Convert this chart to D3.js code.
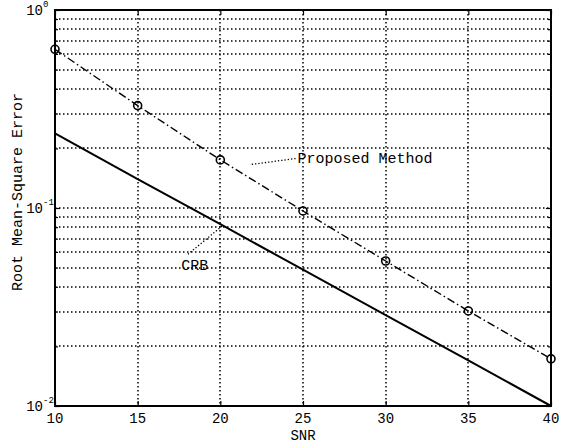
<!DOCTYPE html>
<html>
<head>
<meta charset="utf-8">
<script src="https://cdn.jsdelivr.net/npm/d3@7"></script>
<style>
  body { margin: 0; background: #fff; }
  text { font-family: "Liberation Mono", "DejaVu Sans Mono", monospace; fill: #000; }
</style>
</head>
<body>
<svg id="chart"></svg>
<script>
// ------ data
var snr = [10, 15, 20, 25, 30, 35, 40];
var proposedRmse = [0.633, 0.329, 0.175, 0.0966, 0.054, 0.0302, 0.0173];
var crbRmse = [0.238, 0.140, 0.0828, 0.0488, 0.0288, 0.0170, 0.010];
var xTicks = [10, 15, 20, 25, 30, 35, 40];
var yDecades = [1, 0.1, 0.01];
var yDecadeLabels = ["0", "-1", "-2"];
var annotations = [
  {text: "Proposed Method", from: [21.9, 0.166], to: [24.6, 0.178]},
  {text: "CRB", from: [20.1, 0.081], to: [18.0, 0.058]}
];

// ------ sizes
var width = 563, height = 446;
var margin = {top: 10, right: 12, bottom: 40, left: 55};

var svg = d3.select("#chart")
  .attr("width", width)
  .attr("height", height);

var x = d3.scaleLinear().domain([10, 40]).range([margin.left, width - margin.right]);
var y = d3.scaleLog().domain([0.01, 1]).range([height - margin.bottom, margin.top]);

// minor log values 2..9 per decade
var yMinor = [];
[0.01, 0.1].forEach(function(d) {
  for (var k = 2; k <= 9; k++) yMinor.push(d * k);
});

// ------ grid (dotted)
var grid = svg.append("g").attr("class", "grid")
  .attr("stroke", "#000")
  .attr("stroke-width", 1.5)
  .attr("stroke-dasharray", "1.5,2.5");

grid.selectAll(".vgrid")
  .data(xTicks.slice(1, -1))
  .enter().append("line")
  .attr("x1", d => Math.round(x(d))).attr("x2", d => Math.round(x(d)))
  .attr("y1", y(1)).attr("y2", y(0.01));

grid.selectAll(".hgrid")
  .data(yMinor.concat([0.1]))
  .enter().append("line")
  .attr("x1", x(10)).attr("x2", x(40))
  .attr("y1", d => Math.round(y(d))).attr("y2", d => Math.round(y(d)));

// ------ axes (ticks inside, box)
var xAxisBottom = d3.axisTop(x).tickValues(xTicks).tickSize(5).tickFormat("");
var xAxisTop = d3.axisBottom(x).tickValues(xTicks).tickSize(5).tickFormat("");
svg.append("g").attr("transform", "translate(0," + y(0.01) + ")").call(xAxisBottom);
svg.append("g").attr("transform", "translate(0," + y(1) + ")").call(xAxisTop);

var yLeft = d3.axisRight(y).tickValues(yDecades).tickSize(5).tickFormat("");
var yRight = d3.axisLeft(y).tickValues(yDecades).tickSize(5).tickFormat("");
var yLeftMinor = d3.axisRight(y).tickValues(yMinor).tickSize(3).tickFormat("");
var yRightMinor = d3.axisLeft(y).tickValues(yMinor).tickSize(3).tickFormat("");
svg.append("g").attr("transform", "translate(" + x(10) + ",0)").call(yLeft);
svg.append("g").attr("transform", "translate(" + x(10) + ",0)").call(yLeftMinor);
svg.append("g").attr("transform", "translate(" + x(40) + ",0)").call(yRight);
svg.append("g").attr("transform", "translate(" + x(40) + ",0)").call(yRightMinor);
svg.selectAll(".domain").remove();
svg.selectAll(".tick line").attr("stroke", "#000").attr("stroke-width", 1.2);

svg.append("rect")
  .attr("x", x(10)).attr("y", y(1))
  .attr("width", x(40) - x(10)).attr("height", y(0.01) - y(1))
  .attr("fill", "none").attr("stroke", "#000").attr("stroke-width", 2);

// x tick labels
svg.selectAll(".xlab")
  .data(xTicks)
  .enter().append("text")
  .attr("x", d => x(d)).attr("y", y(0.01) + 17)
  .attr("text-anchor", "middle")
  .style("font-size", "14px")
  .text(d => d);

// y tick labels 10^n
var ylab = svg.selectAll(".ylab")
  .data(yDecades)
  .enter().append("g")
  .attr("transform", d => "translate(" + (x(10) - 12) + "," + y(d) + ")");
ylab.append("text")
  .attr("x", 0).attr("y", 5)
  .attr("text-anchor", "end")
  .style("font-size", "14px")
  .text("10");
ylab.append("text")
  .attr("x", 0).attr("y", -3)
  .attr("text-anchor", "start")
  .style("font-size", "9px")
  .text((d, i) => yDecadeLabels[i]);

// axis titles
svg.append("text")
  .attr("x", (x(10) + x(40)) / 2).attr("y", 440)
  .attr("text-anchor", "middle")
  .style("font-size", "14px")
  .text("SNR");

svg.append("text")
  .attr("transform", "translate(22," + 192 + ") rotate(-90)")
  .attr("text-anchor", "middle")
  .style("font-size", "15px")
  .text("Root Mean-Square Error");

// ------ series
var line = d3.line()
  .x(function(d, i) { return x(snr[i]); })
  .y(function(d) { return y(d); });

svg.append("path")
  .datum(crbRmse)
  .attr("d", line)
  .attr("fill", "none")
  .attr("stroke", "#000")
  .attr("stroke-width", 2);

svg.append("path")
  .datum(proposedRmse)
  .attr("d", line)
  .attr("fill", "none")
  .attr("stroke", "#000")
  .attr("stroke-width", 1.4)
  .attr("stroke-dasharray", "8,3,1.5,3");

svg.selectAll(".dot")
  .data(proposedRmse)
  .enter().append("circle")
  .attr("class", "dot")
  .attr("cx", (d, i) => x(snr[i]))
  .attr("cy", d => y(d))
  .attr("r", 4)
  .attr("fill", "none")
  .attr("stroke", "#000")
  .attr("stroke-width", 1.6);

// ------ annotations with dotted leaders
annotations.forEach(function(a) {
  svg.append("line")
    .attr("x1", x(a.from[0])).attr("y1", y(a.from[1]))
    .attr("x2", x(a.to[0])).attr("y2", y(a.to[1]))
    .attr("stroke", "#000")
    .attr("stroke-width", 1.3)
    .attr("stroke-dasharray", "1.3,2");
});
svg.append("text")
  .attr("x", x(annotations[0].to[0]) + 1).attr("y", y(annotations[0].to[1]) + 5)
  .style("font-size", "15px")
  .text(annotations[0].text);
svg.append("text")
  .attr("x", x(annotations[1].to[0]) - 6).attr("y", y(annotations[1].to[1]) + 15)
  .style("font-size", "15px")
  .text(annotations[1].text);
</script>
</body>
</html>
